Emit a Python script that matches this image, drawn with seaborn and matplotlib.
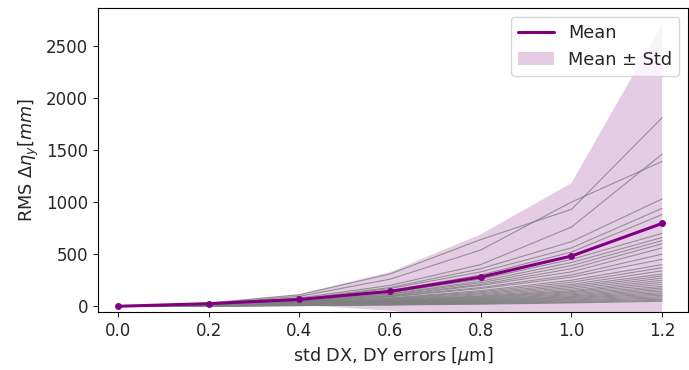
import numpy as np
import pandas as pd
import matplotlib
matplotlib.use("Agg")
import matplotlib.pyplot as plt
import seaborn as sns

# x values (std of DX, DY errors in um)
x_vals = [0.0, 0.2, 0.4, 0.6, 0.8, 1.0, 1.2]

# mean and std of RMS delta eta_y [mm]
mean_vals = [0, 25, 65, 143, 280, 482, 795]
std_vals = [0, 10, 52, 185, 410, 700, 1910]

# individual runs (gray lines)
runs = [
    [0, 30, 110, 310, 640, 930, 1810],
    [0, 25, 95, 260, 540, 1000, 1390],
    [0, 20, 80, 200, 400, 760, 1460],
    [0, 18, 70, 180, 360, 620, 1030],
    [0, 16, 65, 170, 330, 560, 940],
    [0, 15, 60, 150, 300, 520, 880],
    [0, 14, 55, 130, 260, 450, 700],
    [0, 13, 50, 120, 240, 420, 660],
    [0, 12, 48, 115, 225, 390, 630],
    [0, 12, 45, 105, 210, 360, 600],
    [0, 11, 42, 100, 200, 330, 560],
    [0, 10, 40, 95, 180, 300, 500],
    [0, 10, 38, 90, 170, 280, 450],
    [0, 9, 35, 80, 150, 250, 400],
    [0, 9, 32, 75, 140, 230, 370],
    [0, 8, 30, 70, 130, 210, 340],
    [0, 8, 28, 65, 120, 195, 310],
    [0, 7, 26, 60, 110, 180, 290],
    [0, 7, 25, 55, 100, 165, 270],
    [0, 6, 23, 50, 95, 150, 250],
    [0, 6, 22, 48, 88, 140, 230],
    [0, 6, 20, 45, 82, 130, 210],
    [0, 5, 18, 42, 75, 120, 190],
    [0, 5, 17, 38, 70, 110, 175],
    [0, 5, 16, 35, 64, 100, 160],
    [0, 4, 15, 32, 58, 92, 145],
    [0, 4, 14, 30, 52, 84, 130],
    [0, 4, 12, 27, 48, 76, 118],
    [0, 3, 11, 24, 43, 68, 105],
    [0, 3, 10, 22, 38, 60, 92],
    [0, 3, 9, 19, 33, 52, 80],
    [0, 2, 8, 16, 28, 44, 68],
    [0, 2, 7, 14, 24, 38, 58],
    [0, 2, 6, 12, 20, 32, 48],
]

x_ticks = [0.0, 0.2, 0.4, 0.6, 0.8, 1.0, 1.2]
y_ticks = [0, 500, 1000, 1500, 2000, 2500]

sns.set_style("ticks")
plt.rcParams["font.family"] = ["DejaVu Sans"]

fig = plt.figure(figsize=(6.89, 3.70), dpi=100)
ax = fig.add_axes([98 / 689, (370 - 312) / 370, (688 - 98) / 689, (312 - 8) / 370])

rows = []
for i, r in enumerate(runs):
    for xv, yv in zip(x_vals, r):
        rows.append({"run": i, "x": xv, "y": yv})
df = pd.DataFrame(rows)

sns.lineplot(data=df, x="x", y="y", units="run", estimator=None,
             color="gray", linewidth=0.8, alpha=0.8, ax=ax, legend=False)

mean = np.array(mean_vals, dtype=float)
std = np.array(std_vals, dtype=float)
ax.fill_between(x_vals, mean - std, mean + std, color="purple", alpha=0.2,
                linewidth=0, label="Mean ± Std")
sns.lineplot(x=x_vals, y=mean_vals, color="purple", linewidth=2.2,
             ax=ax, label="Mean")
sns.scatterplot(x=x_vals, y=mean_vals, color="purple", s=25, linewidth=0,
                ax=ax, legend=False, zorder=5)

ax.set_xlim(-0.044, 1.257)
ax.set_ylim(-55, 2862)
ax.set_xticks(x_ticks)
ax.set_yticks(y_ticks)
ax.tick_params(labelsize=12)
for s in ax.spines.values():
    s.set_color("black")
    s.set_linewidth(0.8)

ax.set_xlabel(r"std DX, DY errors [$\mu$m]", fontsize=12.7)
ax.set_ylabel(r"RMS $\Delta\eta_y [mm]$", fontsize=12.7)

h, l = ax.get_legend_handles_labels()
order = [l.index("Mean"), l.index("Mean ± Std")]
ax.legend([h[i] for i in order], [l[i] for i in order], loc="upper right",
          fontsize=12.8, frameon=True)

fig.savefig("out.png", dpi=100)
